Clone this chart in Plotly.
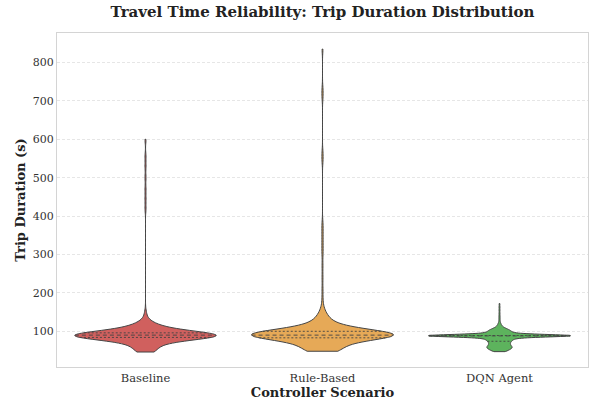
import numpy as np
import plotly.graph_objects as go

# ---------------- data ----------------
scenarios = ["Baseline", "Rule-Based", "DQN Agent"]

# trip durations (s) and how many trips took that long
baseline_durations = [46, 50, 55, 60, 65, 70, 75, 80, 84, 87, 90, 93, 96, 100, 105,
                      110, 116, 122, 130, 140, 150, 420, 445, 470, 500, 530, 555, 600]
baseline_counts = [6, 5, 4, 5, 6, 7, 9, 13, 24, 32, 30, 24, 14, 12, 10,
                   8, 7, 4, 2, 1, 1, 1, 1, 1, 1, 1, 1, 1]

rule_durations = [48, 53, 58, 63, 68, 73, 78, 83, 87, 90, 93, 96, 100, 105, 110,
                  115, 120, 126, 132, 138, 145, 155, 165, 185, 210, 240, 270,
                  300, 320, 340, 360, 380, 545, 565, 710, 730, 835]
rule_counts = [14, 10, 9, 7, 8, 10, 14, 22, 30, 34, 32, 26, 18, 12, 9,
               7, 6, 4, 4, 3, 3, 2, 1, 1, 1, 1, 1,
               1, 1, 1, 1, 1, 1, 1, 1, 1, 1]

dqn_durations = [47, 50, 53, 56, 59, 62, 65, 68, 71, 74, 77, 80, 83, 86, 88, 89,
                 91, 94, 97, 100, 103, 106, 109, 112, 115, 119, 123, 128, 134,
                 140, 147, 155, 163, 172]
dqn_counts = [6, 7, 9, 11, 11, 10, 9, 9, 9, 10, 11, 12, 15, 18, 60, 60,
              18, 13, 11, 10, 9, 7, 4, 3, 2, 2, 1, 1, 1,
              1, 1, 1, 1, 1]

bandwidths = [10, 12, 3]
fill_colors = ["#d0605e", "#e6a957", "#5db35d"]
line_color = "#444444"
serif = "DejaVu Serif"

datasets = [(baseline_durations, baseline_counts),
            (rule_durations, rule_counts),
            (dqn_durations, dqn_counts)]

fig = go.Figure()
half_width = 0.4

for i, ((vals, cnts), bw, col, name) in enumerate(zip(datasets, bandwidths, fill_colors, scenarios)):
    samples = np.repeat(np.array(vals, dtype=float), cnts)
    fig.add_trace(go.Violin(
        x=[i] * len(samples), y=samples, name=name,
        bandwidth=bw, spanmode="hard", scalemode="width", width=2 * half_width,
        fillcolor=col, opacity=1, line=dict(color=line_color, width=1),
        points=False, box_visible=False, meanline_visible=False,
        hoverinfo="skip", showlegend=False,
    ))
    # quartile lines drawn across the violin body (like seaborn inner="quartile")
    lo, hi = samples.min(), samples.max()
    n = int(np.ceil((hi - lo) / (bw / 3.0)))
    grid = np.linspace(lo, hi, n + 1)

    def kde(t):
        t = np.atleast_1d(t)
        return np.exp(-0.5 * ((t[:, None] - samples[None, :]) / bw) ** 2).sum(axis=1)

    dmax = kde(grid).max()
    qs = np.percentile(samples, [25, 50, 75])
    for qv, dash in zip(qs, ["2px,2px", "4px,3px", "2px,2px"]):
        hw = half_width * kde(qv)[0] / dmax
        fig.add_trace(go.Scatter(
            x=[i - hw, i + hw], y=[qv, qv], mode="lines",
            line=dict(color=line_color, width=0.9, dash=dash),
            hoverinfo="skip", showlegend=False,
        ))

fig.update_layout(
    width=592, height=403,
    margin=dict(l=57, r=4, t=33, b=36),
    paper_bgcolor="white", plot_bgcolor="white",
    violinmode="overlay",
    font=dict(family=serif, size=11, color="#333333"),
    title=dict(
        text="<b>Travel Time Reliability: Trip Duration Distribution</b>",
        font=dict(family=serif, size=15, color="#222222"),
        x=0.5, xref="paper", xanchor="center",
        y=1 - 12 / 403, yref="container", yanchor="middle",
    ),
    xaxis=dict(
        type="linear", range=[-0.5, 2.5],
        tickvals=[0, 1, 2], ticktext=scenarios,
        showgrid=False, zeroline=False, ticks="",
        showline=True, mirror=True, linecolor="#d4d4d4", linewidth=1,
        tickfont=dict(family=serif, size=11.5, color="#333333"),
        title=dict(text="<b>Controller Scenario</b>", standoff=3,
                   font=dict(family=serif, size=13, color="#222222")),
    ),
    yaxis=dict(
        range=[7, 877], tick0=0, dtick=100,
        showgrid=True, gridcolor="#e6e6e6", griddash="3px,2px", gridwidth=1,
        zeroline=False, ticks="",
        showline=True, mirror=True, linecolor="#d4d4d4", linewidth=1,
        tickfont=dict(family=serif, size=11, color="#333333"),
        title=dict(text="<b>Trip Duration (s)</b>", standoff=4,
                   font=dict(family=serif, size=13, color="#222222")),
    ),
)

fig.write_html("out.html", config={"displayModeBar": False},
               post_script="document.body.style.margin='0';")
